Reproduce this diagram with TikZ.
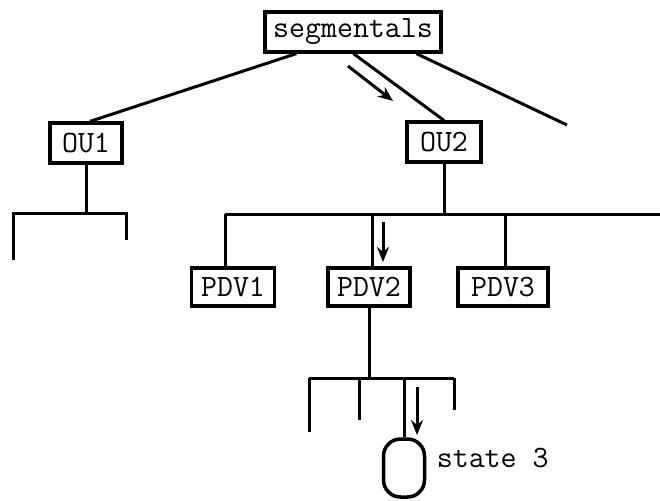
\documentclass[tikz,border=0pt]{standalone}
\usepackage{fontspec}
\usetikzlibrary{calc,arrows.meta}
\begin{document}
\begin{tikzpicture}[x=1pt,y=-1pt,line width=3pt,
  lbl/.style={font=\ttfamily\fontsize{31}{33}\selectfont},
  box/.style={draw,rectangle,inner sep=0pt,lbl,line width=3.2pt},
  arr/.style={-{Stealth[length=15pt,width=12pt]},line width=3pt}]
\useasboundingbox (0,0) rectangle (660,500);
% boxes
\node[box,minimum width=176pt,minimum height=40pt] (seg) at (353,32) {segmentals};
\node[box,minimum width=72pt,minimum height=40pt] (ou1) at (86,143) {OU1};
\node[box,minimum width=74pt,minimum height=40pt] (ou2) at (444,142) {OU2};
\node[box,minimum width=83pt,minimum height=38pt] (p1) at (233,287) {PDV1};
\node[box,minimum width=82pt,minimum height=38pt] (p2) at (369,287) {PDV2};
\node[box,minimum width=90pt,minimum height=38pt] (p3) at (503,287) {PDV3};
\node[draw,rectangle,rounded corners=17pt,minimum width=41pt,minimum height=58pt,line width=3.5pt] (st) at (404,468) {};
\node[lbl,anchor=west] (stl) at (432,458) {state 3};
% top level branches
\coordinate (rend) at (567,125);
\draw ($(seg.south west)+(33,0)$) -- ($(ou1.north)+(4,0)$);
\draw ($(seg.south west)+(90,0)$) -- (ou2.north);
\draw ($(seg.south west)+(153,0)$) -- (rend);
\coordinate (a1s) at (348,66);
\coordinate (a1e) at (393,101);
\draw[arr] (a1s) -- (a1e);
% OU1 subtree
\coordinate (j1) at (86,213);
\coordinate (l1) at (13,213);
\coordinate (r1) at (126,213);
\coordinate (l1e) at (13,260);
\coordinate (r1e) at (126,240);
\draw (ou1.south) -- (j1);
\draw (l1e) -- (l1) -- (r1) -- (r1e);
% OU2 subtree
\coordinate (j2) at (444,214);
\coordinate (l2) at (225,214);
\coordinate (r2) at (660,214);
\coordinate (b1) at (225,214);
\coordinate (b2) at (372,214);
\coordinate (b3) at (505,214);
\draw (ou2.south) -- (j2);
\draw (l2) -- (r2);
\draw (b1) -- (b1 |- p1.north);
\draw (b2) -- (b2 |- p2.north);
\draw (b3) -- (b3 |- p3.north);
\coordinate (a2s) at (383,222);
\coordinate (a2e) at (383,262);
\draw[arr] (a2s) -- (a2e);
% PDV2 subtree
\coordinate (j3) at (369,378);
\coordinate (l3) at (309,378);
\coordinate (r3) at (454,378);
\coordinate (c1) at (359,378);
\coordinate (c2) at (404,378);
\draw (p2.south) -- (j3);
\draw (l3) -- (r3);
\draw (l3) -- (309,432);
\draw (c1) -- (359,420);
\draw (r3) -- (454,410);
\draw (c2) -- (st.north);
\coordinate (a3s) at (417,387);
\coordinate (a3e) at (417,435);
\draw[arr] (a3s) -- (a3e);
\end{tikzpicture}
\end{document}
